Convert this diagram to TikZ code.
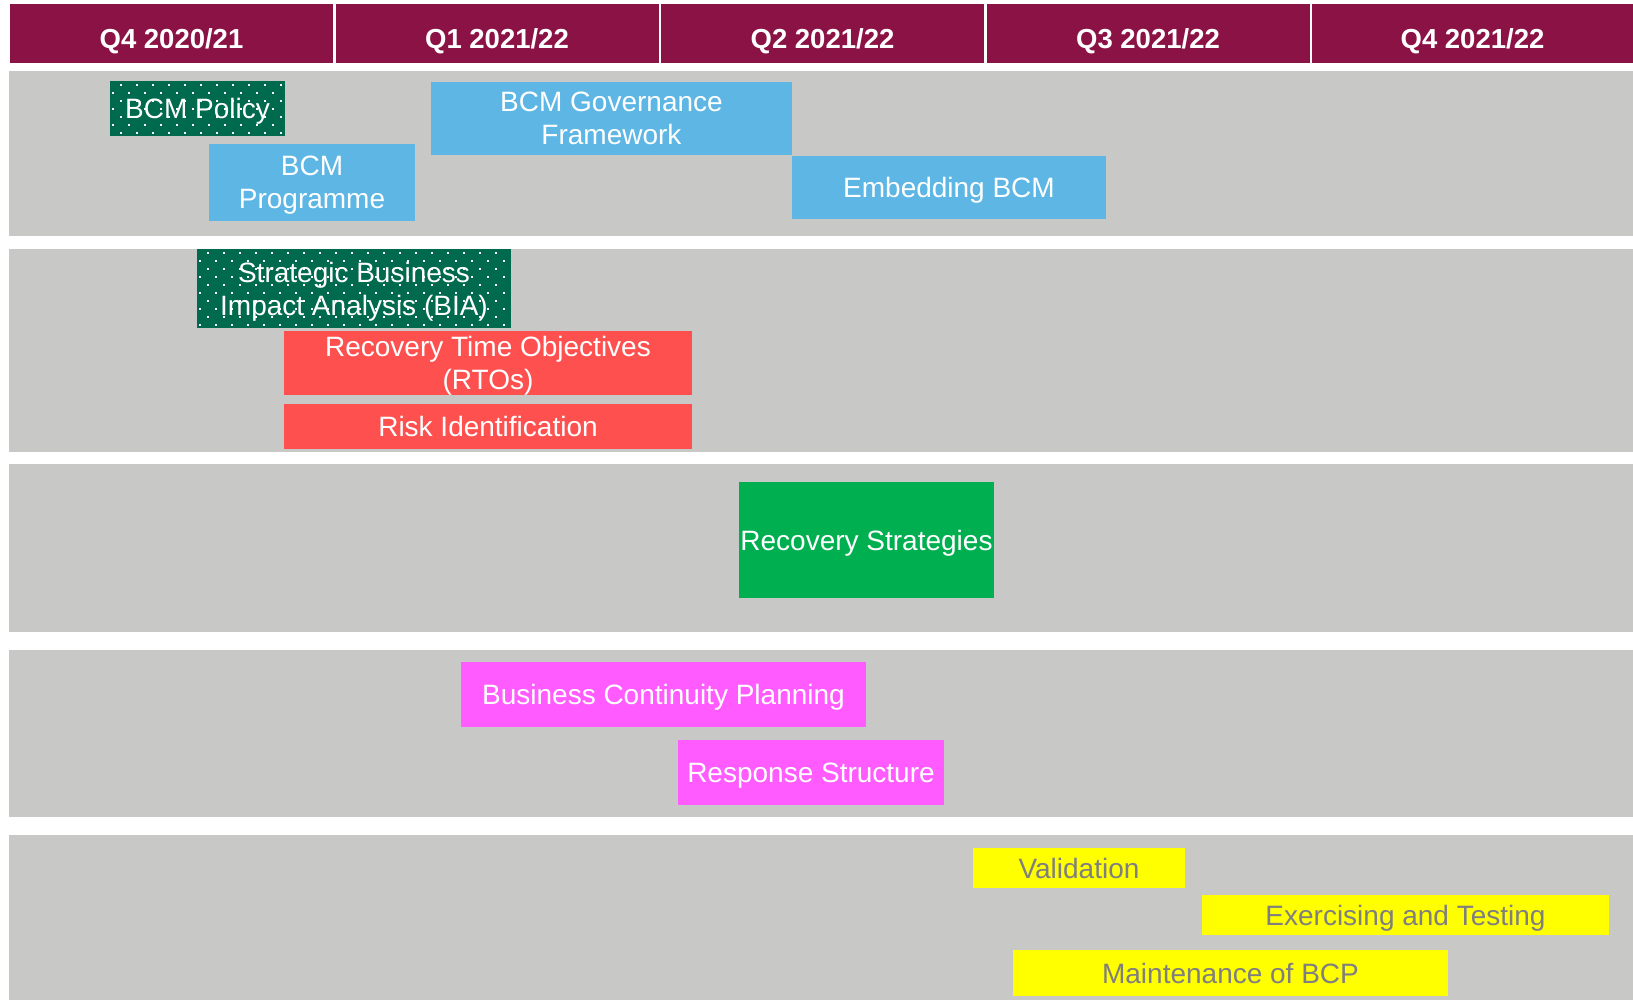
\documentclass[tikz,border=0pt]{standalone}
\usepackage{fontspec}
\setmainfont{Liberation Sans}
\usetikzlibrary{calc}
\definecolor{hdr}{HTML}{8B1245}
\definecolor{band}{HTML}{C8C8C6}
\definecolor{dgreen}{HTML}{006A4E}
\definecolor{lblue}{HTML}{5DB6E4}
\definecolor{lred}{HTML}{FF5050}
\definecolor{lgreen}{HTML}{00AF50}
\definecolor{lmag}{HTML}{FF5BFF}
\definecolor{lyel}{HTML}{FFFF00}
\definecolor{ytext}{HTML}{7F7F7F}
\tikzset{
  hdrcell/.style={fill=hdr, text=white, inner sep=0pt, outer sep=0pt, minimum height=58.5, text height=30pt, text depth=0pt, font=\fontsize{27.5}{33}\selectfont\bfseries},
  bandbox/.style={fill=band, inner sep=0pt, outer sep=0pt, minimum width=1624},
  task/.style={inner sep=0pt, outer sep=0pt, text=white, align=center, text depth=0pt, font=\fontsize{28}{33}\selectfont},
  ytask/.style={task, fill=lyel, text=ytext},
  dotted box/.style={task, fill=dgreen, path picture={
      \coordinate (pnw) at (path picture bounding box.north west);
      \foreach \r in {0,...,10}{
        \foreach \c in {0,...,20}{
          \fill[white] ($(pnw)+({\c*16+2+8*(1-mod(\r,2))},{\r*8+3.5})$) rectangle +(1.6,1.6);
        }
      }
  }},
}
\begin{document}
\begin{tikzpicture}[x=1pt,y=-1pt]
\useasboundingbox (0,0) rectangle (1633,1000);
% header
\node[hdrcell, minimum width=323] (h1) at (171.5,33.75) {Q4 2020/21};
\node[hdrcell, minimum width=323] (h2) at (497,33.75) {Q1 2021/22};
\node[hdrcell, minimum width=323] (h3) at (822.5,33.75) {Q2 2021/22};
\node[hdrcell, minimum width=323] (h4) at (1148,33.75) {Q3 2021/22};
\node[hdrcell, minimum width=321] (h5) at (1472.5,33.75) {Q4 2021/22};
% bands
\node[bandbox, minimum height=165] (b1) at (821,153.5) {};
\node[bandbox, minimum height=203] (b2) at (821,350.5) {};
\node[bandbox, minimum height=168] (b3) at (821,548) {};
\node[bandbox, minimum height=167] (b4) at (821,733.5) {};
\node[bandbox, minimum height=165] (b5) at (821,917.5) {};
% tasks
\node[dotted box, minimum width=175, minimum height=55] (policy) at (197.5,108.5) {BCM Policy};
\node[task, fill=lblue, minimum width=206, minimum height=77] (prog) at (312,182.5) {BCM\\Programme};
\node[task, fill=lblue, minimum width=361, minimum height=73] (gov) at (611.5,118.5) {BCM Governance\\Framework};
\node[task, fill=lblue, minimum width=314, minimum height=63] (embed) at (949,187.5) {Embedding BCM};
\node[dotted box, minimum width=314, minimum height=79] (bia) at (354,288.5) {Strategic Business\\Impact Analysis (BIA)};
\node[task, fill=lred, minimum width=408, minimum height=64] (rto) at (488,363) {Recovery Time Objectives\\(RTOs)};
\node[task, fill=lred, minimum width=408, minimum height=45] (risk) at (488,426.5) {Risk Identification};
\node[task, fill=lgreen, minimum width=255, minimum height=116] (rec) at (866.5,540) {Recovery Strategies};
\node[task, fill=lmag, minimum width=405, minimum height=65] (bcp) at (663.5,694.5) {Business Continuity Planning};
\node[task, fill=lmag, minimum width=266, minimum height=65] (resp) at (811,772.5) {Response Structure};
\node[ytask, minimum width=212, minimum height=40] (val) at (1079,868) {Validation};
\node[ytask, minimum width=407, minimum height=40] (ex) at (1405.5,915) {Exercising and Testing};
\node[ytask, minimum width=435, minimum height=46] (maint) at (1230.5,973) {Maintenance of BCP};
\end{tikzpicture}
\end{document}
